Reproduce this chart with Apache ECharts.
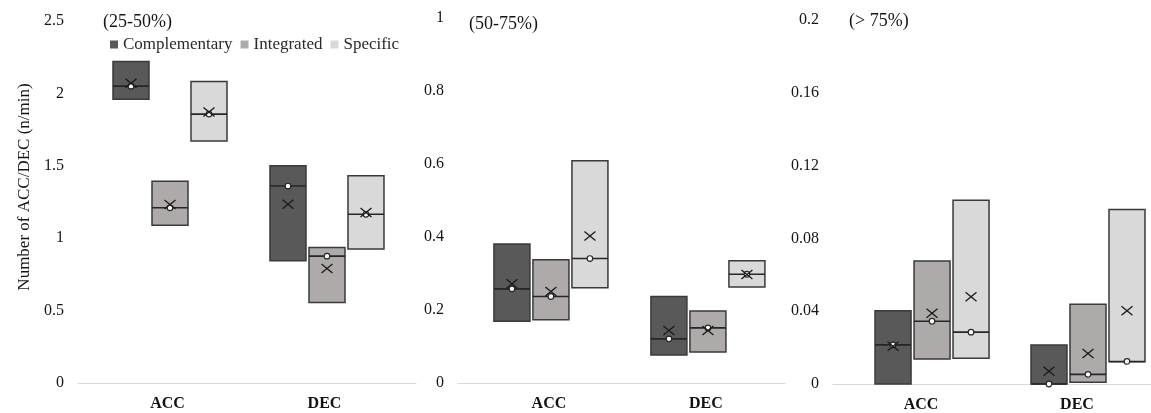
<!DOCTYPE html>
<html><head><meta charset="utf-8">
<script src="https://cdn.jsdelivr.net/npm/echarts@6/dist/echarts.min.js"></script>
<style>html,body{margin:0;padding:0;background:#fff}#c{width:1151px;height:413px}</style>
</head><body><div id="c"></div>
<script>
// ---------- data ----------
const categories = ['ACC', 'DEC'];
const groups = ['Complementary', 'Integrated', 'Specific'];
const panelTitles = ['(25-50%)', '(50-75%)', '(> 75%)'];
const yAxisMax = [2.5, 1, 0.2];
const yAxisStep = [0.5, 0.2, 0.04];
const yAxisName = 'Number of ACC/DEC (n/min)';

// each row: [Q1, median, Q3, mean] for ACC, DEC
const p1Complementary = [[1.96, 2.05, 2.22, 2.07], [0.844, 1.36, 1.50, 1.235]];
const p1Integrated    = [[1.09, 1.21, 1.394, 1.233], [0.556, 0.876, 0.936, 0.79]];
const p1Specific      = [[1.672, 1.857, 2.082, 1.872], [0.925, 1.165, 1.431, 1.178]];

const p2Complementary = [[0.169, 0.258, 0.381, 0.272], [0.077, 0.121, 0.237, 0.144]];
const p2Integrated    = [[0.173, 0.237, 0.338, 0.251], [0.085, 0.151, 0.197, 0.144]];
const p2Specific      = [[0.261, 0.341, 0.609, 0.403], [0.263, 0.298, 0.335, 0.297]];

const p3Complementary = [[0, 0.0215, 0.0402, 0.0207], [0, 0, 0.0214, 0.007]];
const p3Integrated    = [[0.0137, 0.0345, 0.0676, 0.0389], [0.001, 0.0053, 0.0438, 0.0168]];
const p3Specific      = [[0.0141, 0.0285, 0.101, 0.048], [0.0122, 0.0124, 0.0959, 0.0402]];

const panels = [
  [p1Complementary, p1Integrated, p1Specific],
  [p2Complementary, p2Integrated, p2Specific],
  [p3Complementary, p3Integrated, p3Specific]
];

// ---------- styling / layout ----------
const fills = ['#595959', '#AEAAAA', '#D9D9D9'];
const serif = 'Liberation Serif, Times New Roman, serif';
const textColor = '#151515';
const grids = [
  {left: 78, right: 735, top: 21, bottom: 30},
  {left: 458, right: 366, top: 18, bottom: 30},
  {left: 833, right: 0, top: 20, bottom: 28}
];
const xRange = [[-0.586, 1.567], [-0.592, 1.491], [-0.635, 1.404]];
const labelPad = [[0, 5, 0, 0], [0, 4, 0, 0], [0, 22, 0, 0]];
const boxOffset = [-39, 0, 39];
const boxWidth = 36;

function makeRender(g) {
  return function (params, api) {
    const xi = api.value(0);
    const pQ1 = api.coord([xi, api.value(1)]);
    const pMed = api.coord([xi, api.value(2)]);
    const pQ3 = api.coord([xi, api.value(3)]);
    const pMean = api.coord([xi, api.value(4)]);
    const cx = pQ1[0] + boxOffset[g];
    const hw = boxWidth / 2;
    const my = pMean[1];
    const k = 5.5, kv = 4.5;
    return {
      type: 'group',
      children: [
        {type: 'rect', shape: {x: cx - hw, y: pQ3[1], width: boxWidth, height: pQ1[1] - pQ3[1]},
          style: {fill: fills[g], stroke: '#3a3a3a', lineWidth: 1.5}},
        {type: 'line', shape: {x1: cx - hw, y1: pMed[1], x2: cx + hw, y2: pMed[1]},
          style: {stroke: '#262626', lineWidth: 1.6}},
        {type: 'circle', shape: {cx: cx, cy: pMed[1], r: 2.8},
          style: {fill: '#fff', stroke: '#262626', lineWidth: 1.2}},
        {type: 'line', shape: {x1: cx - k, y1: my - kv, x2: cx + k, y2: my + kv},
          style: {stroke: '#1a1a1a', lineWidth: 1.3}},
        {type: 'line', shape: {x1: cx - k, y1: my + kv, x2: cx + k, y2: my - kv},
          style: {stroke: '#1a1a1a', lineWidth: 1.3}}
      ]
    };
  };
}

const xAxes = [], yAxes = [], series = [], titles = [];
const titlePos = [{left: 98, top: 8}, {left: 464, top: 10}, {left: 844, top: 7}];
panels.forEach((panel, p) => {
  xAxes.push({
    type: 'value', gridIndex: p, min: xRange[p][0], max: xRange[p][1],
    splitLine: {show: false}, axisTick: {show: false},
    axisLine: {show: true, onZero: false, lineStyle: {color: '#d9d9d9', width: 1.2}},
    axisLabel: {
      customValues: [0, 1], formatter: v => categories[Math.round(v)] || '',
      fontFamily: serif, fontWeight: 'bold', fontSize: 16, color: '#111',
      margin: 13, padding: labelPad[p]
    }
  });
  yAxes.push({
    type: 'value', gridIndex: p, min: 0, max: yAxisMax[p], interval: yAxisStep[p],
    axisLine: {show: false}, axisTick: {show: false}, splitLine: {show: false},
    axisLabel: {fontFamily: serif, fontSize: 16, color: textColor, margin: 14}
  });
  titles.push({text: panelTitles[p], left: titlePos[p].left, top: titlePos[p].top,
    textStyle: {fontFamily: serif, fontSize: 18, fontWeight: 'normal', color: textColor}});
  panel.forEach((rows, g) => {
    series.push({
      type: 'custom', name: groups[g], xAxisIndex: p, yAxisIndex: p,
      itemStyle: {color: fills[g]},
      encode: {x: 0, y: [1, 2, 3, 4]},
      renderItem: makeRender(g),
      data: rows.map((r, i) => [i, r[0], r[1], r[2], r[3]])
    });
  });
});

const chart = echarts.init(document.getElementById('c'));
chart.setOption({
  animation: false,
  backgroundColor: '#fff',
  title: titles,
  legend: {
    data: groups, left: 105, top: 31, icon: 'rect', itemWidth: 8, itemHeight: 8,
    itemGap: 8, textStyle: {fontFamily: serif, fontSize: 17, color: '#2a2a2a'},
    itemStyle: {borderWidth: 0}
  },
  grid: grids,
  xAxis: xAxes,
  yAxis: yAxes,
  series: series,
  graphic: [{
    type: 'text', x: 25, y: 187, rotation: Math.PI / 2,
    style: {text: yAxisName, fontFamily: serif, fontSize: 17, fill: textColor,
      align: 'center', verticalAlign: 'middle'}
  }]
});
</script></body></html>
